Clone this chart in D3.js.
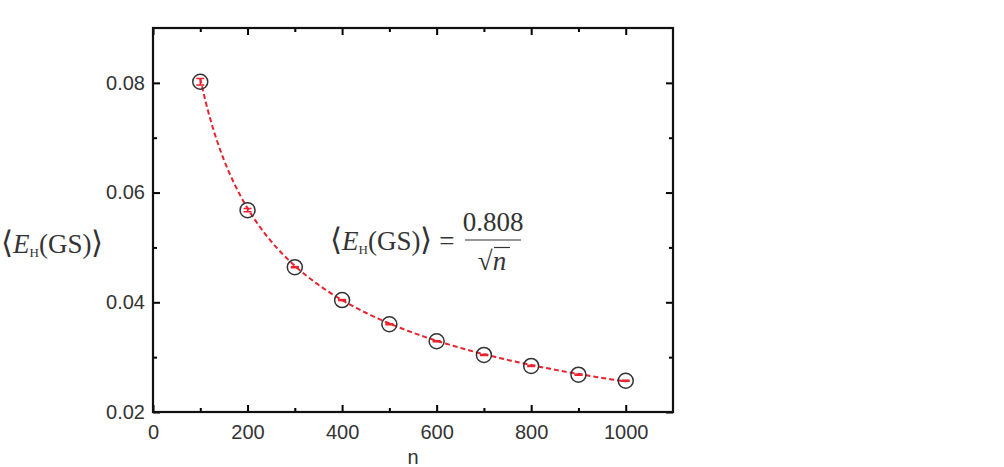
<!DOCTYPE html>
<html>
<head>
<meta charset="utf-8">
<script src="https://cdn.jsdelivr.net/npm/d3@7"></script>
<style>
  body { margin: 0; background: #fff; }
  svg text { fill: #333; }
</style>
</head>
<body>
<div id="container"></div>
<script>
const w = 1004;
const h = 467;

// data
const nValues = [100, 200, 300, 400, 500, 600, 700, 800, 900, 1000];
const energy = [0.0802, 0.0568, 0.0464, 0.0404, 0.0360, 0.0329, 0.0304, 0.0284, 0.0268, 0.0257];
const errors = [0.0006, 0.0003, 0.0001, 0.0001, 0.0001, 0.0001, 0.0001, 0.0001, 0.0001, 0.0001];
const fitCoef = 0.808;   // fit shown on the chart: 0.808 / sqrt(n)
const xTicks = [0, 200, 400, 600, 800, 1000];
const xMinor = [100, 300, 500, 700, 900];
const yTicks = [0.02, 0.04, 0.06, 0.08];
const yMinor = [0.03, 0.05, 0.07];

const pLeft = 153, pRight = 673, pTop = 28, pBottom = 412;

const svg = d3.select("#container").append("svg")
  .attr("width", w).attr("height", h);

const x = d3.scaleLinear().domain([0, 1100]).range([pLeft, pRight]);
const y = d3.scaleLinear().domain([0.02, 0.09]).range([pBottom, pTop]);

// fit curve
const fitPts = d3.range(100, 1001, 5).map(n => [n, fitCoef / Math.sqrt(n)]);
svg.append("path")
  .datum(fitPts)
  .attr("fill", "none")
  .attr("stroke", "#e8232d")
  .attr("stroke-width", 2)
  .attr("stroke-dasharray", "5,3")
  .attr("d", d3.line().x(d => x(d[0])).y(d => y(d[1])));

// error bars
const pts = nValues.map((n, i) => ({ n: n, e: energy[i], err: errors[i] }));
const eb = svg.append("g").attr("stroke", "#e8232d").attr("stroke-width", 1.5);
eb.selectAll("line.v").data(pts).enter().append("line")
  .attr("x1", d => x(d.n)).attr("x2", d => x(d.n))
  .attr("y1", d => y(d.e - d.err)).attr("y2", d => y(d.e + d.err));
eb.selectAll("line.c1").data(pts).enter().append("line")
  .attr("x1", d => x(d.n) - 4).attr("x2", d => x(d.n) + 4)
  .attr("y1", d => y(d.e - d.err)).attr("y2", d => y(d.e - d.err));
eb.selectAll("line.c2").data(pts).enter().append("line")
  .attr("x1", d => x(d.n) - 4).attr("x2", d => x(d.n) + 4)
  .attr("y1", d => y(d.e + d.err)).attr("y2", d => y(d.e + d.err));

// points
svg.selectAll("circle").data(pts).enter().append("circle")
  .attr("cx", d => x(d.n))
  .attr("cy", d => y(d.e))
  .attr("r", 7.5)
  .attr("fill", "none")
  .attr("stroke", "#333")
  .attr("stroke-width", 1.5);

// axes
function addAxis(axis, tx, ty, cls) {
  const g = svg.append("g")
    .attr("transform", "translate(" + tx + "," + ty + ")")
    .attr("class", cls)
    .call(axis);
  g.select(".domain").remove();
  g.selectAll(".tick line").attr("stroke", "#000").attr("stroke-width", 2);
  return g;
}

const fmt = d3.format(".2f");
addAxis(d3.axisBottom(x).tickValues(xTicks).tickSize(-7).tickPadding(13).tickFormat(d3.format("d")), 0, pBottom, "xb");
addAxis(d3.axisBottom(x).tickValues(xMinor).tickSize(-4).tickFormat(""), 0, pBottom, "xbm");
addAxis(d3.axisTop(x).tickValues(xTicks).tickSize(-7).tickFormat(""), 0, pTop, "xt");
addAxis(d3.axisTop(x).tickValues(xMinor).tickSize(-4).tickFormat(""), 0, pTop, "xtm");
addAxis(d3.axisLeft(y).tickValues(yTicks).tickSize(-7).tickPadding(8).tickFormat(fmt), pLeft, 0, "yl");
addAxis(d3.axisLeft(y).tickValues(yMinor).tickSize(-4).tickFormat(""), pLeft, 0, "ylm");
addAxis(d3.axisRight(y).tickValues(yTicks).tickSize(-7).tickFormat(""), pRight, 0, "yr");
addAxis(d3.axisRight(y).tickValues(yMinor).tickSize(-4).tickFormat(""), pRight, 0, "yrm");

svg.selectAll(".xb text, .yl text")
  .attr("font-family", "Liberation Sans, Arial, sans-serif")
  .attr("font-size", 20)
  .attr("fill", "#333");

// frame
svg.append("rect")
  .attr("x", pLeft).attr("y", pTop)
  .attr("width", pRight - pLeft).attr("height", pBottom - pTop)
  .attr("fill", "none").attr("stroke", "#111").attr("stroke-width", 2.2);

// x label
svg.append("text")
  .attr("x", (pLeft + pRight) / 2).attr("y", 464)
  .attr("text-anchor", "middle")
  .attr("font-family", "Liberation Sans, Arial, sans-serif")
  .attr("font-size", 20)
  .text("n");

// y label and formula, Times-like
function eLabel(g, xPos, yPos) {
  const t = g.append("text")
    .attr("x", xPos).attr("y", yPos)
    .attr("font-family", "Liberation Serif, Times New Roman, serif")
    .attr("font-size", 27);
  t.append("tspan").attr("font-size", 31).text("\u27E8");
  t.append("tspan").attr("font-style", "italic").text("E");
  t.append("tspan").attr("font-size", 13).attr("dy", 4).text("H");
  t.append("tspan").attr("dy", -4).text("(GS)");
  t.append("tspan").attr("font-size", 31).text("\u27E9");
  return t;
}
eLabel(svg, 1, 253);

const fg = svg.append("g");
const ft = eLabel(fg, 330, 250);
ft.append("tspan").text(" =");
fg.append("text")
  .attr("x", 493).attr("y", 231)
  .attr("text-anchor", "middle")
  .attr("font-family", "Liberation Serif, Times New Roman, serif")
  .attr("font-size", 27)
  .text("0.808");
fg.append("line")
  .attr("x1", 465).attr("x2", 521).attr("y1", 240).attr("y2", 240)
  .attr("stroke", "#333").attr("stroke-width", 1.2);
const sq = fg.append("text")
  .attr("x", 492).attr("y", 270)
  .attr("text-anchor", "middle")
  .attr("font-family", "Liberation Serif, Times New Roman, serif")
  .attr("font-size", 27);
sq.append("tspan").text("\u221A");
sq.append("tspan").attr("font-style", "italic").text("n");
fg.append("line")
  .attr("x1", 494).attr("x2", 510).attr("y1", 247.5).attr("y2", 247.5)
  .attr("stroke", "#333").attr("stroke-width", 1.2);
</script>
</body>
</html>
